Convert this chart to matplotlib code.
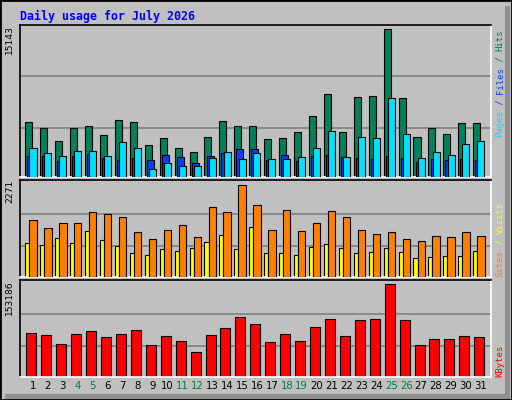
import matplotlib
matplotlib.use("Agg")
import matplotlib.pyplot as plt
from matplotlib.patches import Rectangle
import numpy as np

days = list(range(1, 32))
weekend = [4, 5, 11, 12, 18, 19, 25, 26]
hits = [5687,5070,3734,5070,5276,4351,5893,5687,3323,4043,3015,2604,4145,5790,5276,5276,
        3940,4043,4659,6304,8462,4659,8154,8257,15143,8051,4145,5070,4454,5584,5584]
files = [2193,2193,1679,2193,2398,1987,1782,1987,1782,2295,2090,1473,2193,2501,2912,2912,
         1782,2295,1679,2193,2295,2090,1987,1884,2193,1987,1576,1884,1782,1884,1782]
pages = [3015,2501,2193,2706,2706,2193,3632,3015,857,1473,1165,1165,1987,2604,1884,2501,
         1884,1884,2090,3015,4762,2090,4145,4043,8051,4454,1987,2604,2295,3426,3734]
visits = [1410,1213,1336,1336,1607,1558,1484,1115,943,1164,1287,992,1730,1607,2271,1779,
          1164,1656,1140,1336,1632,1484,1164,1066,1115,943,894,1017,992,1115,1017]
sites = [845,795,967,845,1140,918,771,599,549,697,648,722,869,1041,697,1238,
         599,599,549,746,820,722,599,623,722,623,476,500,525,525,648]
kbytes = [72683,69328,54233,71006,76037,65971,71006,77714,52556,67650,59264,40815,69328,81069,
          99518,87778,57587,71006,59264,82746,96164,67650,94487,96164,153186,94487,52556,62619,
          62619,67650,65971]
title = "Daily usage for July 2026"

BG = "#c0c0c0"
W, H = 512, 400
fig = plt.figure(figsize=(5.12, 4.0), dpi=100, facecolor=BG)
# frame
fig.patches.append(Rectangle((0, 0), 1, 1, transform=fig.transFigure, fill=False,
                             edgecolor="black", lw=2))
fig.patches.append(Rectangle((5/W, 1/H), 505/W, 5/H, transform=fig.transFigure,
                             facecolor="#909090", edgecolor="none"))
fig.patches.append(Rectangle((505/W, 1/H), 5/W, 393/H, transform=fig.transFigure,
                             facecolor="#909090", edgecolor="none"))

x = np.array(days, dtype=float)
xlim = (0.129, 31.676)

def mkax(top, bottom, ymax):
    ax = fig.add_axes([20/W, (H-bottom)/H, 471/W, (bottom-top)/H])
    ax.set_facecolor(BG)
    ax.set_xlim(*xlim)
    ax.set_ylim(0, ymax)
    ax.set_xticks([]); ax.set_yticks([])
    for s in ("top", "left"):
        ax.spines[s].set_color("black")
    for s in ("bottom", "right"):
        ax.spines[s].set_color("white")
    for sp in ax.spines.values():
        sp.set_linewidth(1.2)
    return ax

def grid(ax, peak):
    for f in (0.335, 0.685):
        ax.axhline(peak*f, color="#808080", lw=1.2, zorder=0)

ax1 = mkax(25, 177, 15143*152/147.7)
grid(ax1, 15143)
kw = dict(edgecolor="black", linewidth=0.8)
ax1.bar(x-0.28, hits, 0.47, color="#00805c", **kw, zorder=2)
ax1.bar(x-0.14, files, 0.47, color="#0040ff", **kw, zorder=3)
ax1.bar(x, pages, 0.47, color="#00e0ff", **kw, zorder=4)

ax2 = mkax(180, 277, 2271*97/92.3)
grid(ax2, 2271)
ax2.bar(x-0.38, sites, 0.27, color="#ffff00", **kw, zorder=2)
ax2.bar(x, visits, 0.49, color="#ff8000", **kw, zorder=3)

ax3 = mkax(280, 377, 153186*97/92.7)
grid(ax3, 153186)
ax3.bar(x-0.11, kbytes, 0.67, color="#ff0000", **kw, zorder=2)

for d in days:
    ax3.text(d, -0.04, str(d), transform=ax3.get_xaxis_transform(), ha="center", va="top",
             fontsize=7.3, family="DejaVu Sans",
             color="#008040" if d in weekend else "black")

fig.text(20/W, 1-16/H, title, color="#0000ff", fontsize=8.4, fontweight="bold",
         family="DejaVu Sans Mono", va="center", ha="left")

for ax, val in ((ax1, 15143), (ax2, 2271), (ax3, 153186)):
    ax.text(-0.012, 1.0, str(val), transform=ax.transAxes, rotation=90, ha="right", va="top",
            fontsize=6.6, family="DejaVu Sans", color="black")

def rlabel(xpix, ybot, parts):
    cw = 5.4
    y = ybot
    for txt, col in parts:
        fig.text(xpix/W, (H-y)/H, txt, rotation=90, rotation_mode="anchor", ha="left",
                 va="center", color=col, fontsize=6.5, family="DejaVu Sans Mono")
        y -= cw*len(txt)

rlabel(500, 137, [("Pages", "#00e0ff"), (" / ", "#0040ff"), ("Files", "#0040ff"),
                  (" / ", "#00805c"), ("Hits", "#00805c")])
rlabel(500, 277, [("Sites", "#ff8000"), (" / ", "#ffff00"), ("Visits", "#ffff00")])
rlabel(500, 377, [("KBytes", "#ff0000")])

fig.savefig("out.png", dpi=100, facecolor=BG)
